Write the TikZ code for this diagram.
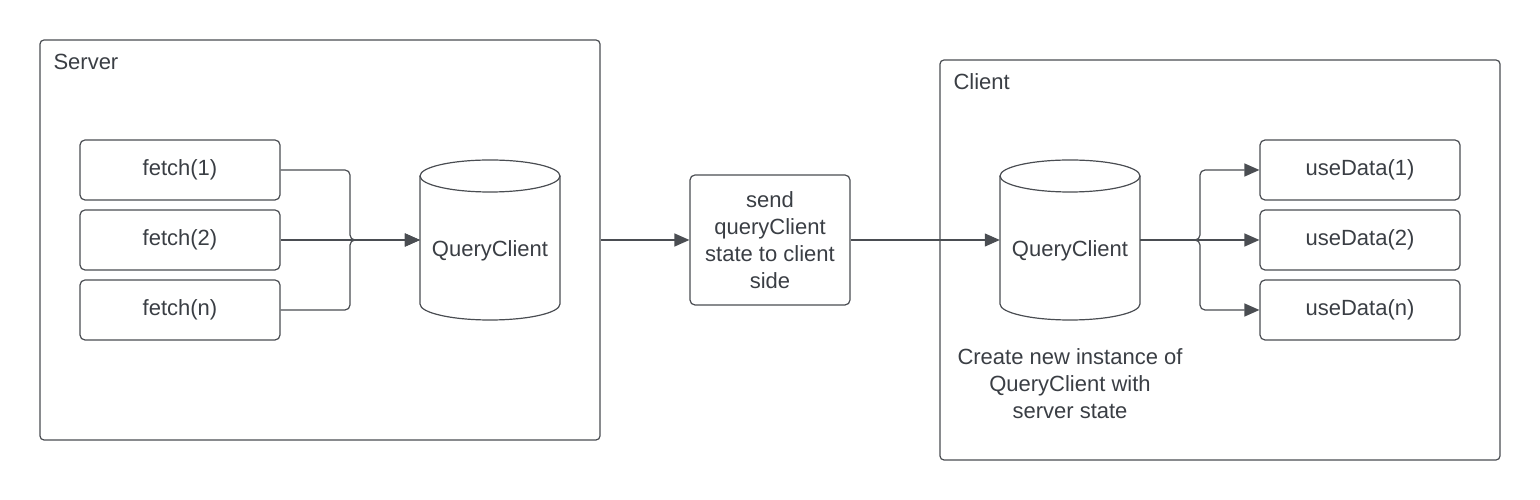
\documentclass[tikz,border=0pt]{standalone}
\usepackage{fontspec}
\setmainfont{Liberation Sans}
\usetikzlibrary{arrows.meta}
\definecolor{ln}{HTML}{4A4D52}
\definecolor{tx}{HTML}{3A3E44}
\tikzset{
  frame/.style={draw=ln, line width=1.2pt, rounded corners=4pt},
  box/.style={draw=ln, line width=1.2pt, rounded corners=5pt, minimum width=200pt, minimum height=60pt, text=tx, font=\fontsize{22}{27}\selectfont},
  lbl/.style={text=tx, font=\fontsize{22}{27}\selectfont, align=center},
  conn/.style={draw=ln, line width=1.2pt, rounded corners=5pt},
  arr/.style={conn, -{Triangle[length=15pt,width=13pt]}},
  cyl/.style={draw=ln, line width=1.2pt},
}
\begin{document}
\begin{tikzpicture}[x=1pt,y=1pt]
\useasboundingbox (0,0) rectangle (1540,500);
% server frame
\node[frame, minimum width=560pt, minimum height=400pt] (server) at (320,260) {};
\node[lbl, anchor=west] (serverlbl) at (50,438) {Server};
% fetch boxes
\node[box] (f1) at (180,330) {fetch(1)};
\node[box] (f2) at (180,260) {fetch(2)};
\node[box] (f3) at (180,190) {fetch(n)};
% cylinder 1
\node[minimum width=140pt, minimum height=160pt, inner sep=0pt] (qc1) at (490,260) {};
\draw[cyl] (420,324) -- (420,196) arc[start angle=180,end angle=360,x radius=70pt,y radius=16pt] -- (560,324);
\draw[cyl] (490,324) ellipse [x radius=70pt, y radius=16pt];
\node[lbl] (qc1t) at (490,249) {QueryClient};
\coordinate (jl) at (350,260);
\draw[arr] (f1.east) -- (jl|-f1.east) -- (jl) -- (qc1.west);
\draw[arr] (f2.east) -- (qc1.west);
\draw[arr] (f3.east) -- (jl|-f3.east) -- (jl) -- (qc1.west);
% send box
\node[box, minimum width=160pt, minimum height=130pt, align=center] (send) at (770,260) {send\\queryClient\\state to client\\side};
\draw[arr] (server.east) -- (send.west);
% client frame
\node[frame, minimum width=560pt, minimum height=400pt] (client) at (1220,240) {};
\node[lbl, anchor=west] (clientlbl) at (950,418) {Client};
% cylinder 2
\node[minimum width=140pt, minimum height=160pt, inner sep=0pt] (qc2) at (1070,260) {};
\draw[cyl] (1000,324) -- (1000,196) arc[start angle=180,end angle=360,x radius=70pt,y radius=16pt] -- (1140,324);
\draw[cyl] (1070,324) ellipse [x radius=70pt, y radius=16pt];
\node[lbl] (qc2t) at (1070,249) {QueryClient};
\draw[arr] (send.east) -- (qc2.west);
\node[lbl] (note) at (1070,116) {Create new instance of\\QueryClient with\\server state};
% useData boxes
\node[box] (u1) at (1360,330) {useData(1)};
\node[box] (u2) at (1360,260) {useData(2)};
\node[box] (u3) at (1360,190) {useData(n)};
\coordinate (jr) at (1200,260);
\draw[arr] (qc2.east) -- (jr) -- (jr|-u1.west) -- (u1.west);
\draw[arr] (qc2.east) -- (u2.west);
\draw[arr] (qc2.east) -- (jr) -- (jr|-u3.west) -- (u3.west);
\end{tikzpicture}
\end{document}
